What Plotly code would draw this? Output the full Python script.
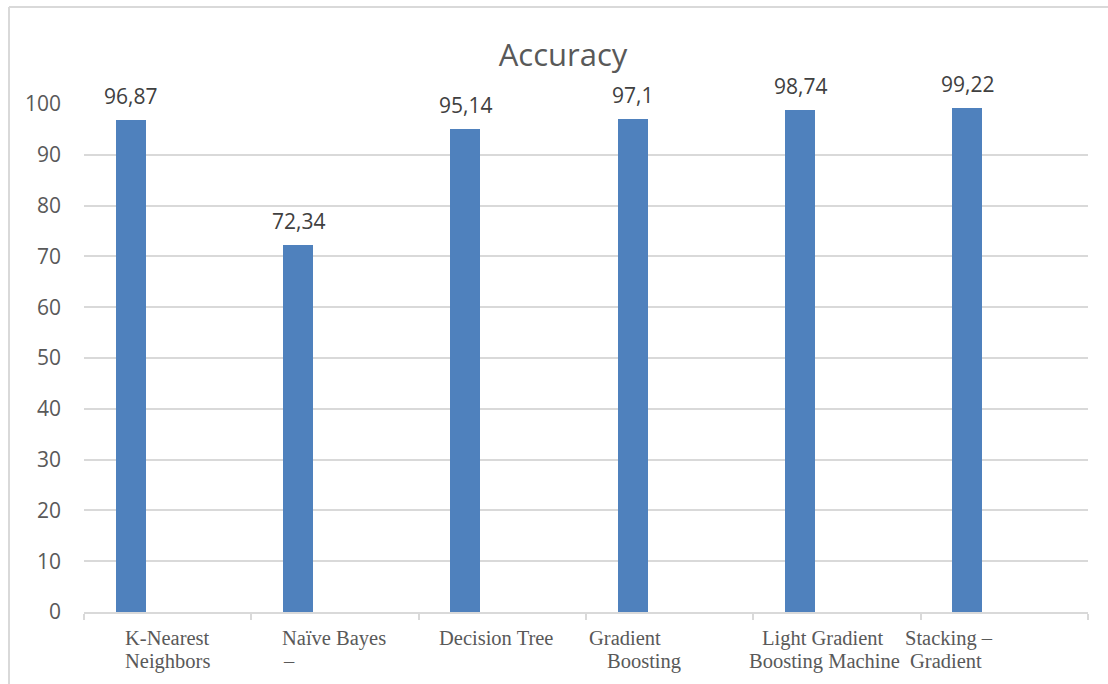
import plotly.graph_objects as go

# Model accuracy (%) per classifier
categories = [
    "K-Nearest Neighbors",
    "Naïve Bayes –",
    "Decision Tree",
    "Gradient Boosting",
    "Light Gradient Boosting Machine",
    "Stacking – Gradient",
]
accuracy = [96.87, 72.34, 95.14, 97.1, 98.74, 99.22]
value_labels = ["96,87", "72,34", "95,14", "97,1", "98,74", "99,22"]
y_ticks = [0, 10, 20, 30, 40, 50, 60, 70, 80, 90, 100]

# ---- layout geometry (pixels) ----
W, H = 1108, 684
L, R, T, B = 84, 20, 104, 72
PW, PH = W - L - R, H - T - B
CAT_PX = PW / len(categories)

BAR_COLOR = "#4f81bd"
GRID = "#d9d9d9"
TEXT = "#595959"


def px_x(x):
    return (x - L) / PW


def px_y(y):
    return 1 - (y - T) / PH


fig = go.Figure()
fig.add_trace(go.Bar(
    x=categories,
    y=accuracy,
    marker=dict(color=BAR_COLOR, line=dict(width=0)),
    width=30 / CAT_PX,
    offset=-52 / CAT_PX,
    hoverinfo="x+y",
    showlegend=False,
))

annotations = []
# value labels above each bar
bar_mid = (-52 + 15) / CAT_PX
for i, (v, lab) in enumerate(zip(accuracy, value_labels)):
    annotations.append(dict(
        x=i + bar_mid, y=v, xref="x", yref="y",
        text=lab, showarrow=False, yanchor="bottom", yshift=8,
        font=dict(family="Open Sans", size=21, color="#404040"),
    ))

# wrapped category labels: words on first line, then per-line (dx px, anchor)
first_line_words = [1, 2, 2, 1, 2, 2]
line_place = [
    [(0, "center"), (0, "center")],
    [(-1, "center"), (-54, "left")],
    [(-6, "center"), (0, "center")],
    [(-45, "center"), (-26, "center")],
    [(-14, "center"), (-13, "center")],
    [(-55, "center"), (-58, "center")],
]
line_y = [638, 661]
for i, name in enumerate(categories):
    words = name.split(" ")
    n = first_line_words[i]
    lines = [" ".join(words[:n]), " ".join(words[n:])]
    for k, txt in enumerate(lines):
        if not txt:
            continue
        dx, anchor = line_place[i][k]
        annotations.append(dict(
            x=i + dx / CAT_PX, y=px_y(line_y[k]), xref="x", yref="paper",
            text=txt, showarrow=False, xanchor=anchor, yanchor="middle",
            font=dict(family="Liberation Serif", size=20.5, color=TEXT),
        ))

shapes = [
    # outer chart frame (top and left edges)
    dict(type="line", xref="paper", yref="paper",
         x0=px_x(9), x1=px_x(W + 2), y0=px_y(7), y1=px_y(7),
         line=dict(color=GRID, width=2)),
    dict(type="line", xref="paper", yref="paper",
         x0=px_x(9), x1=px_x(9), y0=px_y(7), y1=px_y(H + 2),
         line=dict(color=GRID, width=2)),
]

fig.update_layout(
    width=W, height=H,
    margin=dict(l=L, r=R, t=T, b=B),
    paper_bgcolor="white", plot_bgcolor="white",
    title=dict(text="Accuracy", x=563 / W, xref="container", xanchor="center",
               y=1 - 55 / H, yref="container", yanchor="middle",
               font=dict(family="Open Sans", size=31, color=TEXT)),
    bargap=0,
    annotations=annotations,
    shapes=shapes,
    xaxis=dict(
        type="category", showticklabels=False, showgrid=False,
        showline=True, linecolor=GRID, linewidth=2,
        ticks="outside", tickson="boundaries", ticklen=6,
        tickcolor=GRID, tickwidth=2, range=[-0.5, len(categories) - 0.5],
        fixedrange=True,
    ),
    yaxis=dict(
        range=[0, 100], tickvals=y_ticks, showgrid=True, gridcolor=GRID,
        gridwidth=2, zeroline=False, showline=False, ticks="",
        ticklabelstandoff=22,
        tickfont=dict(family="Open Sans", size=21, color=TEXT),
        fixedrange=True,
    ),
)

fig.write_html("out.html")
